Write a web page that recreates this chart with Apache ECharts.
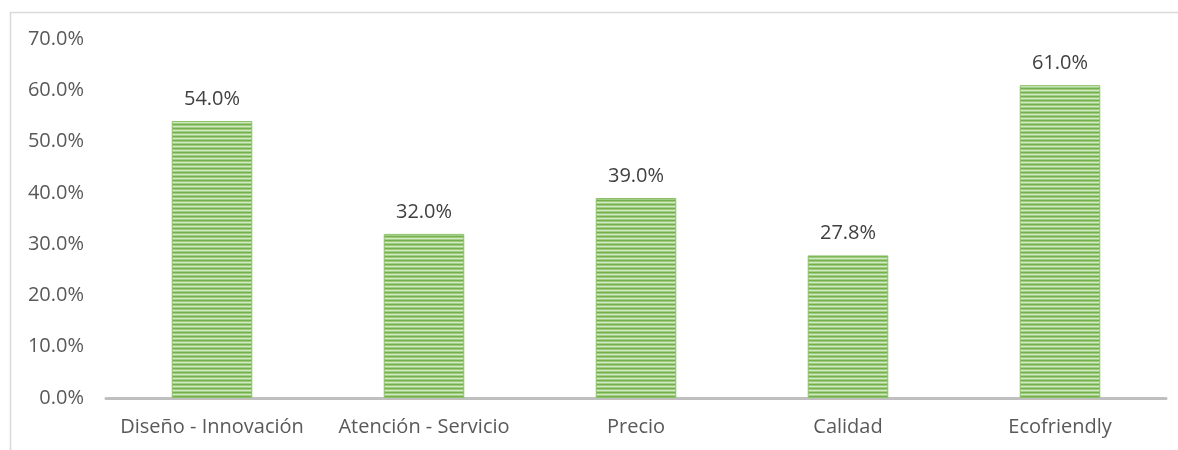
<!DOCTYPE html>
<html>
<head>
<meta charset="utf-8">
<script src="https://cdn.jsdelivr.net/npm/echarts@6/dist/echarts.min.js"></script>
<style>
  html, body { margin: 0; padding: 0; background: #fff; }
  #chart { width: 1178px; height: 450px; }
</style>
</head>
<body>
<div id="chart"></div>
<script>
const categories = ['Diseño - Innovación', 'Atención - Servicio', 'Precio', 'Calidad', 'Ecofriendly']
const values = [54.0, 32.0, 39.0, 27.8, 61.0]

// striped fill like the excel pattern
function stripePattern() {
  const c = document.createElement('canvas')
  c.width = 4
  c.height = 4
  const ctx = c.getContext('2d')
  const rows = ['#74B04C', '#9ECB7F', '#D2E9C3', '#A3CE85']
  rows.forEach((col, i) => {
    ctx.fillStyle = col
    ctx.fillRect(0, i, 4, 1)
  })
  return c
}

const chart = echarts.init(document.getElementById('chart'))
const font = '"Open Sans", sans-serif'

const option = {
  animation: false,
  textStyle: { fontFamily: font },
  grid: { left: 106, right: 12, top: 39, bottom: 52 },
  graphic: [{
    type: 'rect',
    shape: { x: 10.5, y: 12.5, width: 1300, height: 600 },
    style: { fill: 'none', stroke: '#D9D9D9', lineWidth: 1.5 },
    silent: true
  }],
  xAxis: {
    type: 'category',
    data: categories,
    axisTick: { show: false },
    axisLine: { lineStyle: { color: '#BFBFBF', width: 3 } },
    axisLabel: { color: '#595959', fontSize: 20, fontFamily: font, margin: 19, interval: 0 }
  },
  yAxis: {
    type: 'value',
    min: 0,
    max: 70,
    interval: 10,
    splitLine: { show: false },
    axisLine: { show: false },
    axisTick: { show: false },
    axisLabel: {
      color: '#595959',
      fontSize: 20,
      fontFamily: font,
      margin: 22,
      formatter: v => v.toFixed(1) + '%'
    }
  },
  series: [{
    type: 'bar',
    data: values,
    barWidth: '38%',
    itemStyle: {
      color: { image: stripePattern(), repeat: 'repeat' },
      borderColor: '#8CC168',
      borderWidth: 1
    },
    label: {
      show: true,
      position: 'top',
      distance: 12,
      color: '#404040',
      fontSize: 20,
      fontFamily: font,
      formatter: p => p.value.toFixed(1) + '%'
    }
  }]
}

chart.setOption(option)
</script>
</body>
</html>
